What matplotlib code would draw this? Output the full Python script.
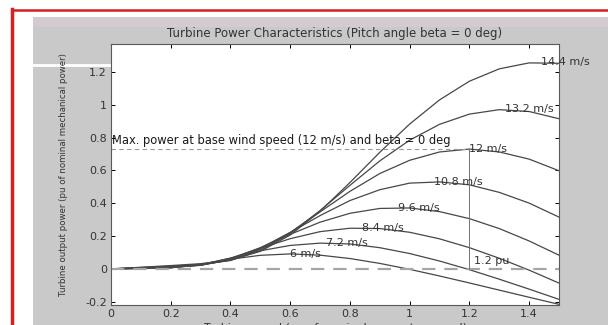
import matplotlib
matplotlib.use("Agg")
import matplotlib.pyplot as plt
from matplotlib.patches import Rectangle
from matplotlib.lines import Line2D

# vitesse turbine (pu)
vitesse = [0, 0.1, 0.2, 0.3, 0.4, 0.5, 0.6, 0.7, 0.8, 0.9, 1.0, 1.1, 1.2, 1.3, 1.4, 1.5]

p_6 = [0, 0.0018, 0.0067, 0.0277, 0.059, 0.0827, 0.0912, 0.0836, 0.0631, 0.0334,
       -0.0028, -0.0432, -0.0857, -0.1293, -0.1729, -0.216]
p_7_2 = [0, 0.0025, 0.0068, 0.0258, 0.0657, 0.1103, 0.1429, 0.1569, 0.1518, 0.1291,
         0.0935, 0.0479, -0.0048, -0.0628, -0.1233, -0.1856]
p_8_4 = [0, 0.0034, 0.0075, 0.0232, 0.0653, 0.1254, 0.184, 0.2269, 0.2477, 0.2458,
         0.2231, 0.1831, 0.1293, 0.0648, -0.0077, -0.0865]
p_9_6 = [0, 0.0044, 0.0094, 0.0215, 0.0611, 0.1295, 0.2105, 0.2846, 0.3387, 0.3682,
         0.3711, 0.3489, 0.3061, 0.2456, 0.1701, 0.0835]
p_10_8 = [0, 0.0057, 0.0114, 0.0228, 0.0549, 0.1265, 0.2219, 0.3245, 0.4163, 0.4823,
          0.5225, 0.5298, 0.5122, 0.4661, 0.4008, 0.3154]
p_12 = [0, 0.007, 0.014, 0.023, 0.054, 0.1193, 0.2219, 0.3472, 0.4723, 0.5809,
        0.6616, 0.7122, 0.73, 0.7124, 0.6687, 0.5979]
p_13_2 = [0, 0.0085, 0.0168, 0.0273, 0.0508, 0.1108, 0.2167, 0.3553, 0.5089, 0.6578,
          0.7841, 0.8806, 0.9429, 0.97, 0.9587, 0.9148]
p_14_4 = [0, 0.010, 0.0202, 0.0318, 0.0541, 0.1069, 0.2062, 0.351, 0.5259, 0.7103,
          0.8824, 1.0295, 1.1432, 1.2186, 1.2549, 1.2525]

courbes = [p_6, p_7_2, p_8_4, p_9_6, p_10_8, p_12, p_13_2, p_14_4]
etiquettes = ["6 m/s", "7.2 m/s", "8.4 m/s", "9.6 m/s", "10.8 m/s", "12 m/s", "13.2 m/s", "14.4 m/s"]
# points de puissance max (position des etiquettes)
pic_x = [0.6, 0.72, 0.84, 0.96, 1.08, 1.2, 1.32, 1.44]
pic_y = [0.0913, 0.1577, 0.2504, 0.3738, 0.5322, 0.73, 0.9716, 1.2614]

base_vitesse = 1.2
base_puissance = 0.73

y_ticks = [-0.2, 0, 0.2, 0.4, 0.6, 0.8, 1, 1.2]
y_tick_labels = ["-0.2", "0", "0.2", "0.4", "0.6", "0.8", "1", "1.2"]
x_ticks = [0, 0.2, 0.4, 0.6, 0.8, 1, 1.2, 1.4]
x_tick_labels = ["0", "0.2", "0.4", "0.6", "0.8", "1", "1.2", "1.4"]

fig = plt.figure(figsize=(6.08, 3.25), dpi=100)
fig.patch.set_facecolor("white")

# fond gris de la fenetre + bordure rouge
fig.patches.append(Rectangle((33 / 608, 0), 1 - 33 / 608, 1 - 17 / 325,
                             transform=fig.transFigure, facecolor="#c9c9c9",
                             edgecolor="none", zorder=-10))
fig.patches.append(Rectangle((33 / 608, 1 - 27 / 325), 1 - 33 / 608, 10 / 325,
                             transform=fig.transFigure, facecolor="#d2cbd0",
                             edgecolor="none", zorder=-10))
fig.lines.append(Line2D([12 / 608, 12 / 608], [0, 1 - 9 / 325], transform=fig.transFigure,
                        color="#d42020", lw=2.5, zorder=-5))
fig.lines.append(Line2D([12 / 608, 1], [1 - 9.5 / 325, 1 - 9.5 / 325], transform=fig.transFigure,
                        color="#d42020", lw=1.8, zorder=-5))
fig.lines.append(Line2D([33 / 608, 111 / 608], [1 - 65 / 325, 1 - 65 / 325], transform=fig.transFigure,
                        color="white", lw=2, zorder=-5))

ax = fig.add_axes([111 / 608, 1 - 305 / 325, 448 / 608, 261 / 325])
ax.set_facecolor("white")

for p in courbes:
    ax.plot(vitesse, p, color="0.28", lw=0.9)

for xe, ye, txt in zip(pic_x, pic_y, etiquettes):
    ax.text(xe, ye, txt, fontsize=8, color="0.2", va="center", ha="left", clip_on=False)

# lignes de reference
ax.axhline(0, color="0.65", lw=1.6, dashes=(6, 4))
ax.plot([0, base_vitesse], [base_puissance, base_puissance], color="0.6", lw=0.8, dashes=(4, 3))
ax.plot([base_vitesse, base_vitesse], [0, base_puissance], color="0.45", lw=0.7)
ax.text(0.005, base_puissance + 0.05, "Max. power at base wind speed (12 m/s) and beta = 0 deg",
        fontsize=8.3, color="0.1", va="center", ha="left")
ax.text(base_vitesse + 0.015, 0.05, "1.2 pu", fontsize=8, color="0.2", va="center", ha="left")

ax.set_xlim(0, 1.5)
ax.set_ylim(-0.22, 1.37)
ax.set_xticks(x_ticks)
ax.set_xticklabels(x_tick_labels)
ax.set_yticks(y_ticks)
ax.set_yticklabels(y_tick_labels)
ax.tick_params(direction="in", length=3, width=0.7, labelsize=8, labelcolor="0.2",
               top=True, right=True, pad=3)
for s in ax.spines.values():
    s.set_color("0.35")
    s.set_linewidth(0.8)

ax.set_title("Turbine Power Characteristics (Pitch angle beta = 0 deg)", fontsize=8.5, color="0.2", pad=5)
fig.text(63 / 608, 1 - 175 / 325, "Turbine output power (pu of nominal mechanical power)",
         rotation=90, fontsize=6.2, color="0.2", va="center", ha="center")
fig.text(335 / 608, 0.006, "Turbine speed (pu of nominal generator speed)",
         fontsize=8, color="0.2", va="top", ha="center")

plt.savefig("out.png", dpi=100)
